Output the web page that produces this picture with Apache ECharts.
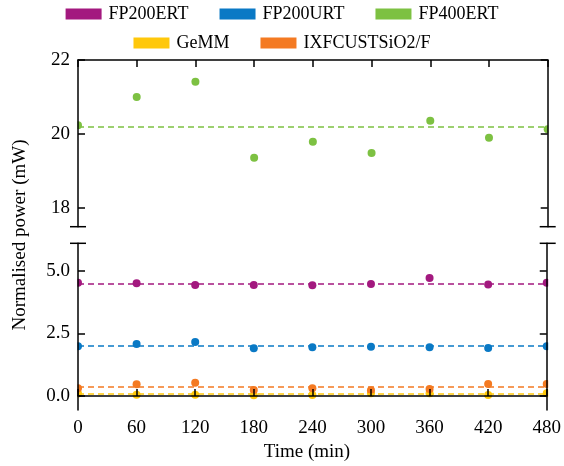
<!DOCTYPE html>
<html>
<head>
<meta charset="utf-8">
<script src="https://cdn.jsdelivr.net/npm/echarts@6/dist/echarts.min.js"></script>
<style>
  html, body { margin: 0; padding: 0; background: #fff; }
  #chart { width: 564px; height: 466px; }
</style>
</head>
<body>
<div id="chart"></div>
<script>
// time points (min)
const times = [0, 60, 120, 180, 240, 300, 360, 420, 480];

// normalised power (mW) per device
const fp200ert = [4.52, 4.50, 4.43, 4.43, 4.42, 4.47, 4.71, 4.45, 4.52];
const fp200urt = [1.99, 2.08, 2.16, 1.91, 1.95, 1.97, 1.95, 1.92, 1.99];
const fp400ert = [20.24, 21.00, 21.41, 19.36, 19.79, 19.49, 20.36, 19.90, 20.13];
const gemm = [0.10, 0.05, 0.05, 0.03, 0.04, 0.11, 0.11, 0.04, 0.11];
const ixfcust = [0.31, 0.47, 0.53, 0.24, 0.31, 0.23, 0.28, 0.48, 0.48];

// mean values (dashed lines)
const means = [4.49, 1.99, 20.19, 0.07, 0.37];

const names = ['FP200ERT', 'FP200URT', 'FP400ERT', 'GeMM', 'IXFCUSTSiO2/F'];
const colors = ['#a3197f', '#0a79c5', '#7dc142', '#ffc80b', '#f47a22'];
const values = [fp200ert, fp200urt, fp400ert, gemm, ixfcust];
const panel = [1, 1, 0, 1, 1]; // 0 = upper (broken) panel, 1 = lower panel

const topTicks = [18, 20, 22];
const bottomTicks = [0, 2.5, 5];

const chart = echarts.init(document.getElementById('chart'));

const font = 'Liberation Serif';
const L = 78, R = 547.7;
const topG = { top: 60, h: 166.7 };
const botG = { top: 243.3, h: 166.7 };

const axisLine = { show: true, lineStyle: { color: '#000', width: 1.5 } };
const tickIn = { show: true, inside: true, length: 7, lineStyle: { color: '#000', width: 1.5 } };

function yAx(grid, min, max, ticks, pos, labels, fmt) {
  return {
    type: 'value', gridIndex: grid, position: pos, min: min, max: max, z: 10,
    axisLine: axisLine,
    axisTick: Object.assign({}, tickIn, { customValues: ticks }),
    axisLabel: {
      show: labels, customValues: ticks, color: '#000', fontFamily: font, fontSize: 19, margin: 8,
      formatter: fmt
    },
    splitLine: { show: false }
  };
}

function xAx(grid, pos, labels) {
  return {
    type: 'value', gridIndex: grid, position: pos, min: 0, max: 480, interval: 60, z: 10,
    axisLine: axisLine,
    axisTick: tickIn,
    axisLabel: { show: labels, color: '#000', fontFamily: font, fontSize: 19, margin: 9 },
    splitLine: { show: false }
  };
}

const series = names.map((n, i) => ({
  name: n,
  type: 'scatter',
  xAxisIndex: panel[i],
  yAxisIndex: panel[i] * 2,
  symbolSize: 8,
  itemStyle: { color: colors[i], opacity: 1 },
  data: times.map((t, k) => [t, values[i][k]]),
  markLine: {
    silent: true,
    symbol: 'none',
    label: { show: false },
    lineStyle: { color: colors[i], type: [6, 4], width: 1.5 },
    data: [{ yAxis: means[i] }]
  },
  z: 2
}));

function cap(x, y) {
  return { type: 'line', z: 20, shape: { x1: x - 8, y1: y, x2: x + 8, y2: y }, style: { stroke: '#000', lineWidth: 1.5 } };
}

// white masks so markers at the plot edge look clipped
function mask(x, y, h) {
  return { type: 'rect', z: 5, shape: { x: x, y: y, width: 5, height: h }, style: { fill: '#fff' } };
}

const legendBase = {
  left: 'center', icon: 'rect', itemWidth: 36, itemHeight: 11, itemGap: 31,
  textStyle: { color: '#000', fontFamily: font, fontSize: 18, padding: [0, 0, 0, 2] }
};

chart.setOption({
  animation: false,
  legend: [
    Object.assign({}, legendBase, { top: 0, data: names.slice(0, 3) }),
    Object.assign({}, legendBase, { top: 29, data: names.slice(3) })
  ],
  grid: [
    { left: L, right: 564 - R, top: topG.top, height: topG.h },
    { left: L, right: 564 - R, top: botG.top, height: botG.h }
  ],
  xAxis: [
    xAx(0, 'top', false),
    xAx(1, 'bottom', true)
  ],
  yAxis: [
    yAx(0, 17.5, 22, topTicks, 'left', true),
    yAx(0, 17.5, 22, topTicks, 'right', false),
    yAx(1, -0.56, 6.1, bottomTicks, 'left', true, v => v.toFixed(1)),
    yAx(1, -0.56, 6.1, bottomTicks, 'right', false)
  ],
  series: series,
  graphic: [
    mask(L - 5.5, topG.top, topG.h), mask(L - 5.5, botG.top, botG.h),
    mask(R + 0.5, topG.top, topG.h), mask(R + 0.5, botG.top, botG.h),
    cap(L, topG.top + topG.h), cap(L, botG.top),
    cap(R, topG.top + topG.h), cap(R, botG.top),
    {
      type: 'text', x: 307, y: 452,
      style: { text: 'Time (min)', fill: '#000', font: '19px "Liberation Serif"', textAlign: 'center', textVerticalAlign: 'middle' }
    },
    {
      type: 'text', x: 20, y: 235, rotation: Math.PI / 2,
      style: { text: 'Normalised power (mW)', fill: '#000', font: '19px "Liberation Serif"', textAlign: 'center', textVerticalAlign: 'middle' }
    }
  ]
});
</script>
</body>
</html>
